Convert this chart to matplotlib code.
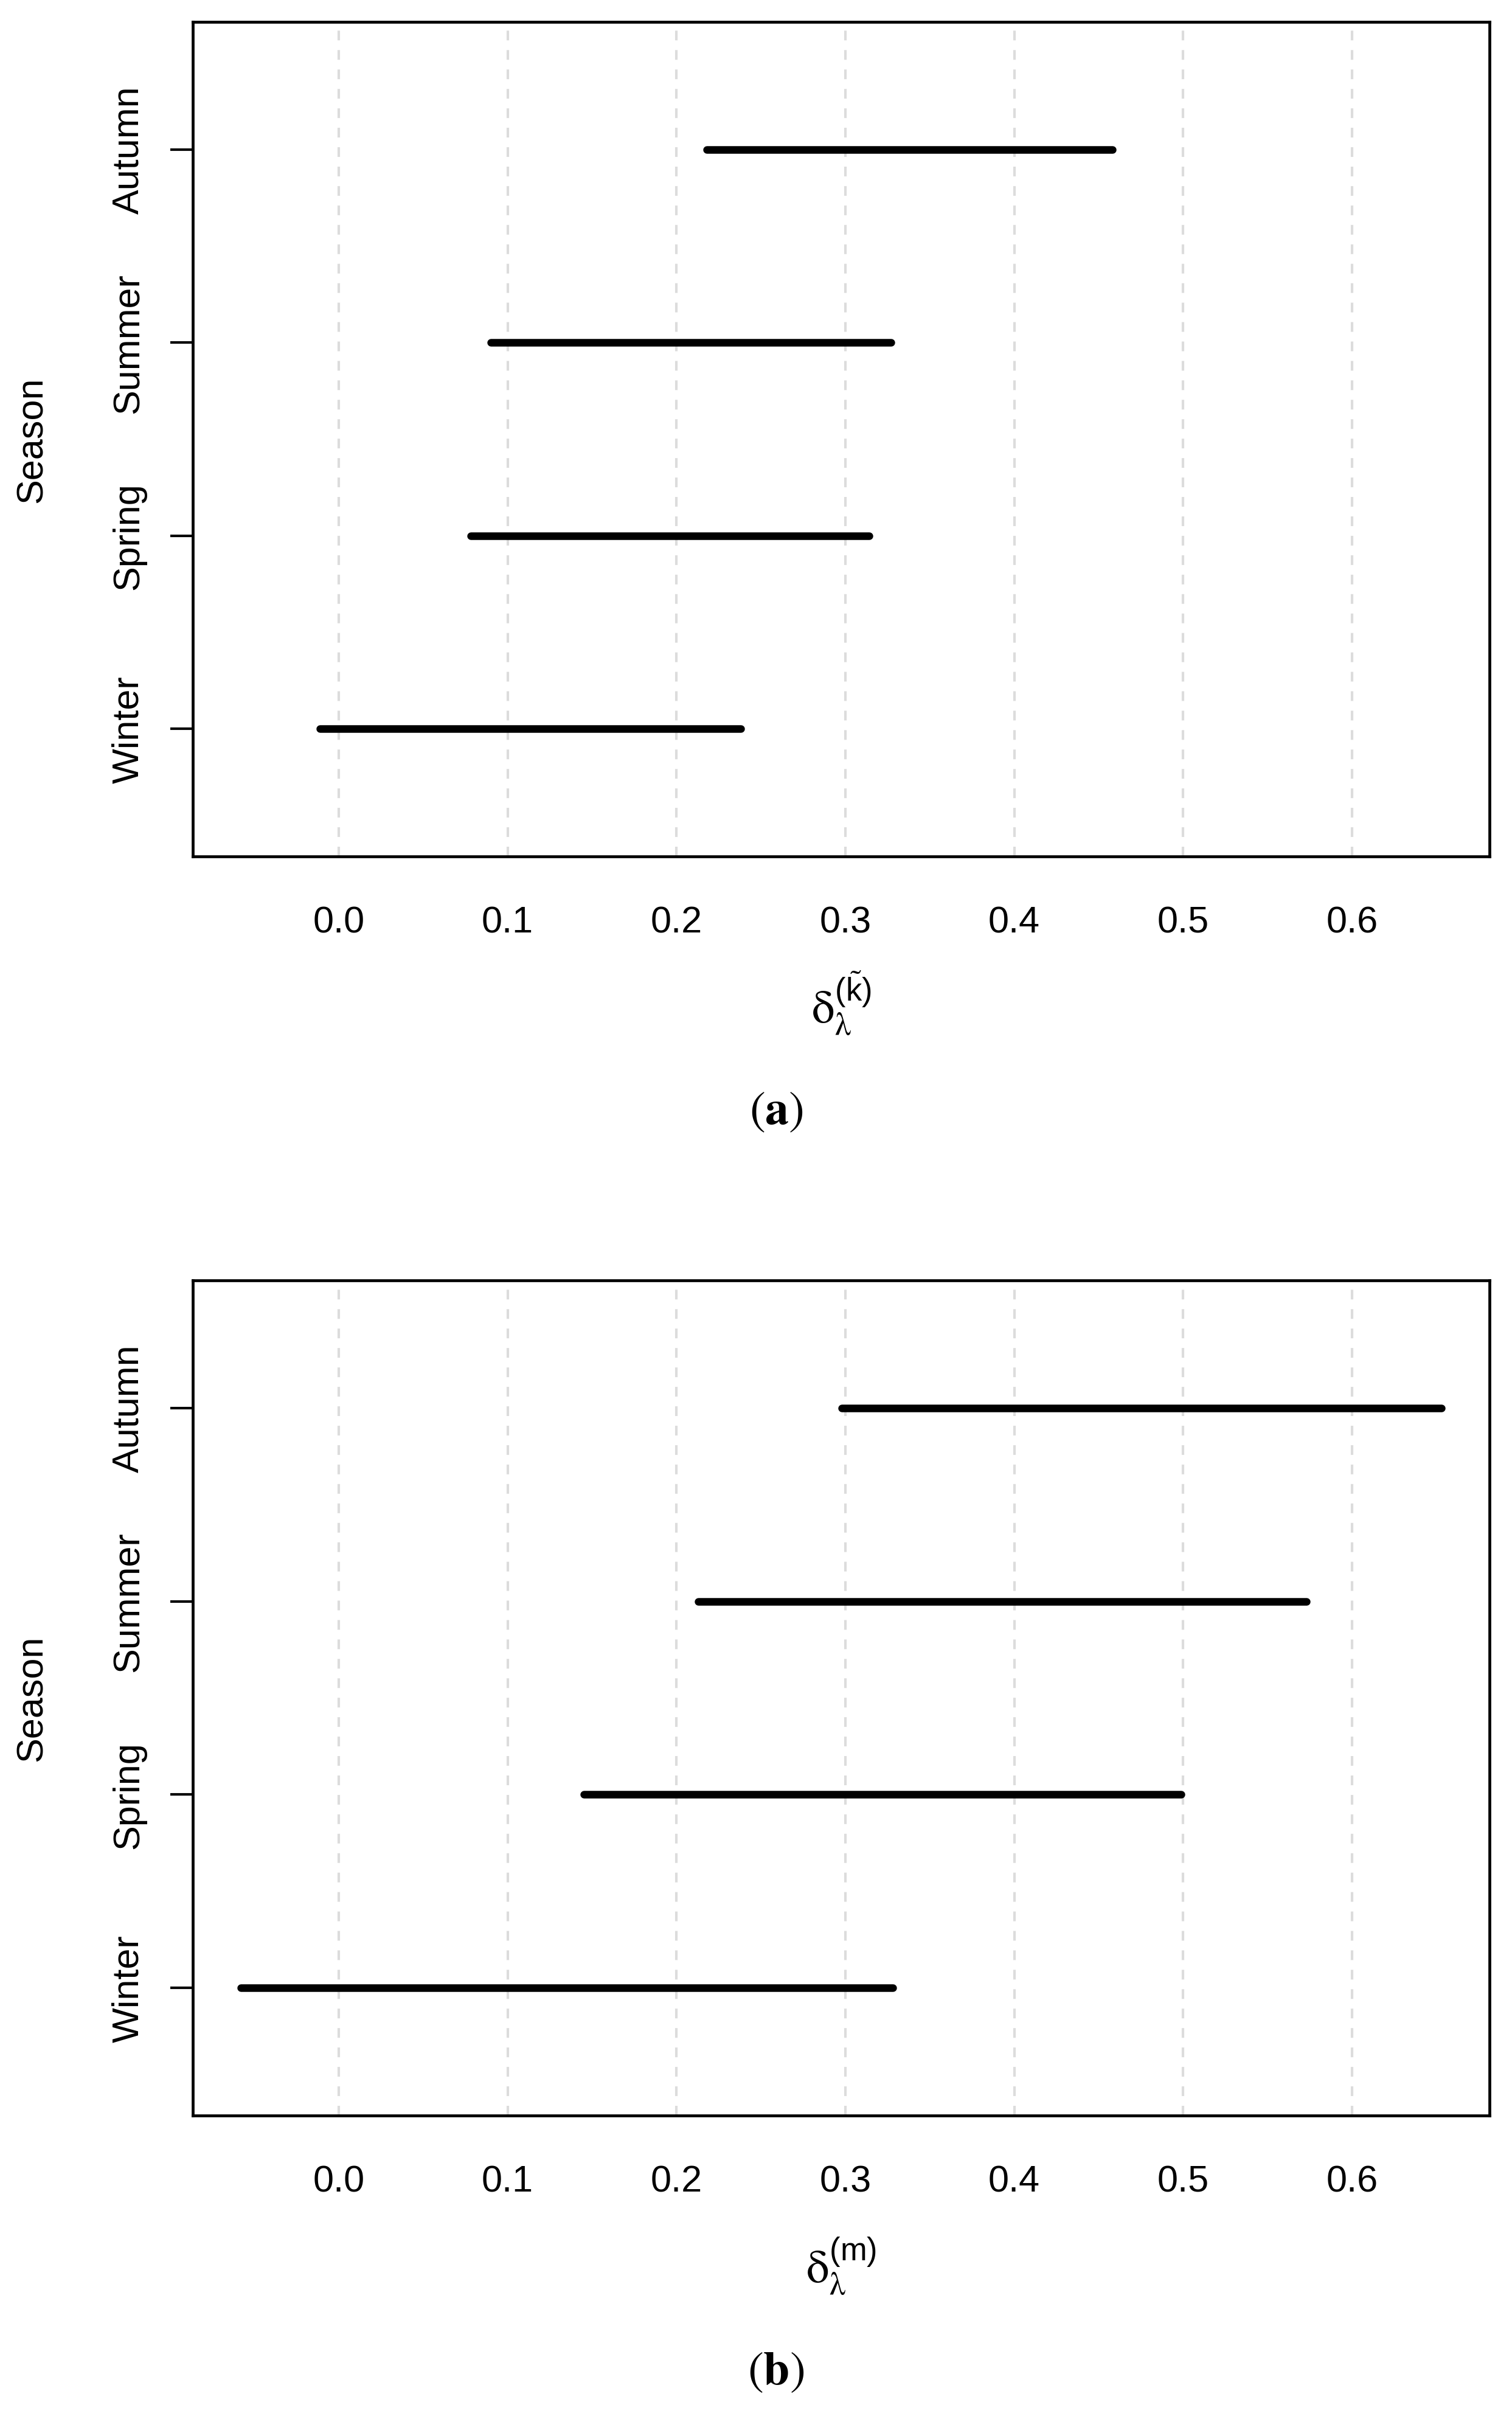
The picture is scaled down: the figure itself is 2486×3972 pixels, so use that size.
import numpy as np
import matplotlib
matplotlib.use("Agg")
import matplotlib.pyplot as plt

plt.rcParams['font.family'] = ['Liberation Sans', 'DejaVu Sans']
plt.rcParams['mathtext.fontset'] = 'custom'
plt.rcParams['mathtext.rm'] = 'STIXGeneral'
plt.rcParams['mathtext.it'] = 'STIXGeneral:italic'
plt.rcParams['mathtext.bf'] = 'STIXGeneral:bold'
plt.rcParams['mathtext.sf'] = 'Liberation Sans'
plt.rcParams['lines.scale_dashes'] = False

# seasons bottom to top
seasons = ["Winter", "Spring", "Summer", "Autumn"]
xticks = [0.0, 0.1, 0.2, 0.3, 0.4, 0.5, 0.6]
xtick_labels = ["0.0", "0.1", "0.2", "0.3", "0.4", "0.5", "0.6"]

# interval ends, panel (a): delta_lambda^(k~)
lo_a = [-0.011, 0.078, 0.090, 0.218]
hi_a = [0.238, 0.314, 0.327, 0.458]

# interval ends, panel (b): delta_lambda^(m)
lo_b = [-0.058, 0.145, 0.213, 0.298]
hi_b = [0.328, 0.499, 0.573, 0.653]

W, H = 2486, 3973
fig = plt.figure(figsize=(W / 100, H / 100), dpi=100)

# R-style 4% axis extension, shared x range
xmin, xmax = min(lo_b), max(hi_b)
xpad = 0.04 * (xmax - xmin)
ypad = 0.04 * 4


def draw_panel(ax, lo, hi):
    for x in xticks:
        ax.axvline(x, color='#dcdcdc', lw=3.0, dashes=(11.5, 11.5), zorder=1)
    for i, (a, b) in enumerate(zip(lo, hi)):
        ax.plot([a, b], [i + 1, i + 1], color='black', lw=9,
                solid_capstyle='round', zorder=3)
    ax.set_xlim(xmin - xpad, xmax + xpad)
    ax.set_ylim(0.5 - ypad, 4.5 + ypad)
    ax.set_xticks(xticks)
    ax.set_xticklabels(xtick_labels, fontsize=44)
    ax.set_yticks(range(1, 5))
    ax.set_yticklabels(seasons, fontsize=44, rotation=90, va='center', ha='right')
    ax.tick_params(axis='x', length=0, pad=58)
    ax.tick_params(axis='y', length=27, width=3, pad=28)
    for sp in ax.spines.values():
        sp.set_linewidth(3.4)


left = 317 / W
width = (2449 - 317) / W

ax_a = fig.add_axes([left, 1 - 1409 / H, width, (1409 - 37) / H])
draw_panel(ax_a, lo_a, hi_a)
ax_b = fig.add_axes([left, 1 - 3479 / H, width, (3479 - 2106) / H])
draw_panel(ax_b, lo_b, hi_b)

lab_a = r'$\mathrm{\delta}_{\mathrm{\lambda}}^{\mathsf{(}\tilde{\mathsf{k}}\mathsf{)}}$'
lab_b = r'$\mathrm{\delta}_{\mathrm{\lambda}}^{\mathsf{(m)}}$'

xc = 1383 / W
for top, bot, base, cap_y, lab, cap in [
        (37, 1409, 1683, 1828, lab_a, r'$(\mathbf{a})$'),
        (2106, 3479, 3753, 3900, lab_b, r'$(\mathbf{b})$')]:
    fig.text(53 / W, 1 - (top + bot) / 2 / H, "Season", rotation=90,
             ha='center', va='center', fontsize=44)
    fig.text(xc, 1 - base / H, lab, ha='center', va='baseline', fontsize=54)
    fig.text(1276 / W, 1 - cap_y / H, cap, ha='center', va='center', fontsize=56)

fig.savefig("out.png", dpi=100, facecolor='white')
